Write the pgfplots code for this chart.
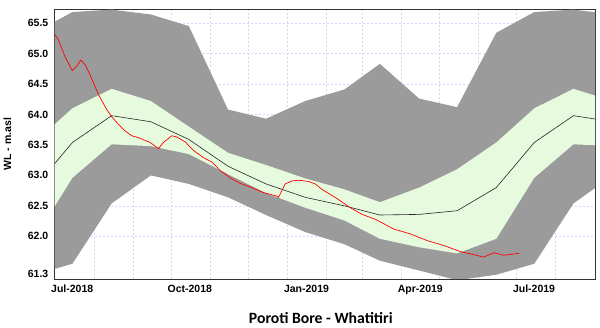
\documentclass[border=0pt]{standalone}
\usepackage{fontspec}
\setmainfont{Liberation Sans}
\newfontfamily\titlefont{Carlito}
\usepackage{pgfplots}
\pgfplotsset{compat=1.18}
\usepackage{pgfplotstable}
\usepgfplotslibrary{fillbetween}

\definecolor{bandgrey}{RGB}{155,155,155}
\definecolor{bandgreen}{RGB}{230,250,222}
\definecolor{gridblue}{RGB}{212,212,252}

% monthly statistics (day = days since 1 Jul 2018, mid-month)
\pgfplotstableread{
day lo q1 med q3 hi
-16 61.37 61.96 62.80 63.54 65.34
14 61.55 62.96 63.54 64.10 65.68
45 62.54 63.51 63.98 64.42 65.72
76 63.00 63.48 63.88 64.22 65.64
106 62.86 63.35 63.59 63.80 65.45
137 62.64 63.02 63.15 63.37 64.08
167 62.35 62.71 62.86 63.17 63.93
198 62.07 62.47 62.64 62.95 64.22
229 61.87 62.26 62.50 62.77 64.41
257 61.60 61.96 62.35 62.56 64.83
288 61.44 61.82 62.36 62.80 64.26
318 61.28 61.72 62.42 63.10 64.12
349 61.37 61.96 62.80 63.54 65.34
379 61.55 62.96 63.54 64.10 65.68
410 62.54 63.51 63.98 64.42 65.72
441 63.00 63.48 63.88 64.22 65.64
}\stats

% observed water level
\pgfplotstableread{
day wl
0.2 65.31
2.8 65.23
8.1 64.95
13.9 64.72
17.4 64.79
20.6 64.89
24.0 64.82
27.9 64.65
34.5 64.33
41.1 64.08
45.1 63.96
50.3 63.84
55.6 63.73
60.9 63.65
66.1 63.62
75.4 63.54
80.7 63.46
82.0 63.44
85.9 63.54
92.6 63.65
96.5 63.63
103.1 63.55
109.7 63.41
117.6 63.29
124.2 63.22
130.8 63.08
138.7 62.96
146.6 62.87
154.5 62.81
164.8 62.72
175.6 62.66
176.9 62.64
182.2 62.86
187.7 62.91
192.7 62.92
200.6 62.90
205.9 62.86
211.2 62.77
223.1 62.62
233.6 62.47
242.9 62.36
253.4 62.28
267.9 62.12
281.1 62.04
294.3 61.93
307.4 61.85
320.6 61.75
335.1 61.68
339.1 61.66
347.0 61.73
354.9 61.69
366.8 61.72
}\obs

\begin{document}
\begin{tikzpicture}
\begin{axis}[
  set layers,
  scale only axis,
  width=540.3bp, height=270bp,
  xmin=0, xmax=427, ymin=61.3, ymax=65.73,
  axis line style={black!80, line width=0.8bp},
  tick style={draw=none},
  xtick={0,92,184,274,365},
  xticklabels={Jul-2018,Oct-2018,Jan-2019,Apr-2019,Jul-2019},
  minor xtick={31,62,123,153,215,243,304,335,396},
  ytick={62,62.5,63,63.5,64,64.5,65,65.5},
  extra y ticks={61.3},
  extra y tick style={grid=none, yticklabel style={yshift=5bp}},
  xmajorgrids, xminorgrids, ymajorgrids,
  grid style={gridblue, dash pattern=on 2bp off 2bp, line width=0.6bp},
  minor grid style={gridblue, dash pattern=on 2bp off 2bp, line width=0.6bp},
  /pgf/number format/assume math mode=true,
  tick label style={font=\fontsize{10.5bp}{12bp}\selectfont\bfseries},
  xticklabel style={anchor=north west, inner sep=0pt, xshift=-3.7bp, yshift=-5.5bp},
  yticklabel style={anchor=east, inner sep=0pt, xshift=-6.2bp,
    /pgf/number format/fixed, /pgf/number format/fixed zerofill,
    /pgf/number format/precision=1},
  ylabel={WL - m.asl},
  ylabel style={at={(axis description cs:-0.0877,0.5)}, anchor=center,
    font=\fontsize{10.5bp}{12bp}\selectfont\bfseries},
  title={Poroti Bore - Whatitiri},
  title style={at={(axis description cs:0.4925,-0.165)}, anchor=center, inner sep=0pt,
    font=\fontsize{15.7bp}{18bp}\selectfont\titlefont\bfseries},
]
\addplot[draw=none, name path=hi, forget plot] table[x=day,y=hi]{\stats};
\addplot[draw=none, name path=lo, forget plot] table[x=day,y=lo]{\stats};
\addplot[fill=bandgrey, draw=none] fill between[of=hi and lo];
\addplot[draw=none, name path=qthree, forget plot] table[x=day,y=q3]{\stats};
\addplot[draw=none, name path=qone, forget plot] table[x=day,y=q1]{\stats};
\addplot[fill=bandgreen, draw=none] fill between[of=qthree and qone];
\addplot[black!85, line width=0.6bp, mark=none] table[x=day,y=med]{\stats};
\addplot[red, line width=0.7bp, mark=none] table[x=day,y=wl]{\obs};
\end{axis}
\pgfresetboundingbox
\path[use as bounding box] (-54.7bp,-49bp) rectangle (545.3bp,279bp);
\end{tikzpicture}
\end{document}
